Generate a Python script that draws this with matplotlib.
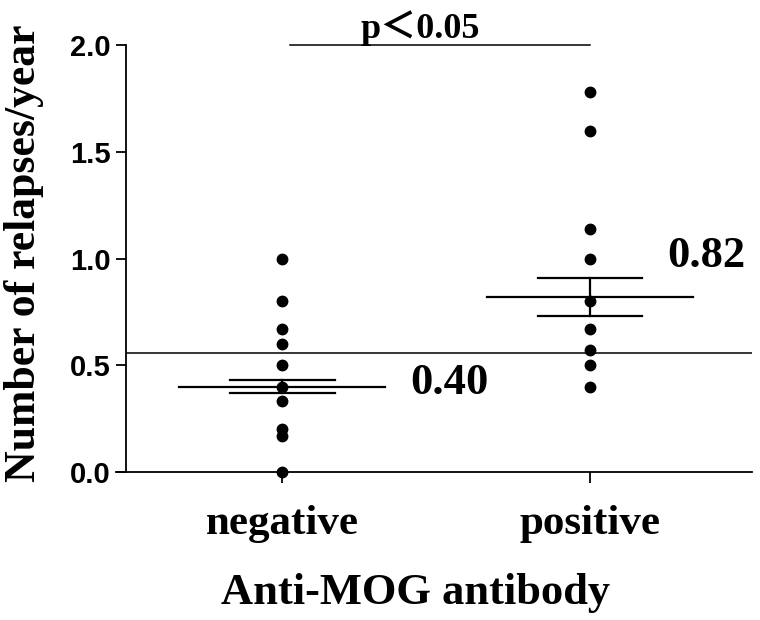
import matplotlib
matplotlib.use('Agg')
import matplotlib.pyplot as plt

groups = ['negative', 'positive']
neg_values = [1.0, 0.8, 0.67, 0.6, 0.5, 0.4, 0.33, 0.2, 0.17, 0.0]
pos_values = [1.78, 1.6, 1.14, 1.0, 0.8, 0.67, 0.57, 0.5, 0.4]
means = [0.40, 0.82]
sems = [0.03, 0.09]
cutoff = 0.557
y_ticks = [0.0, 0.5, 1.0, 1.5, 2.0]

serif = ['Liberation Serif', 'Noto Sans CJK JP']
sans = ['Liberation Sans']

fig = plt.figure(figsize=(7.6, 6.2), dpi=100)
ax = fig.add_axes([0.166, 0.239, 0.823, 0.688])

for i, vals in enumerate([neg_values, pos_values]):
    x = i + 1
    ax.plot([x] * len(vals), vals, 'o', color='black', markersize=7.5, zorder=3, clip_on=False)
    # mean line and SEM
    ax.plot([x - 0.335, x + 0.335], [means[i], means[i]], color='black', lw=1.6)
    for s in (-1, 1):
        ax.plot([x - 0.17, x + 0.17], [means[i] + s * sems[i]] * 2, color='black', lw=1.6)
    ax.plot([x, x], [means[i] - sems[i], means[i] + sems[i]], color='black', lw=1.6)

ax.text(1.415, 0.415, '%.2f' % means[0], fontsize=32, fontweight='bold', family=serif, va='center', ha='left')
ax.text(2.25, 1.01, '%.2f' % means[1], fontsize=32, fontweight='bold', family=serif, va='center', ha='left')

ax.axhline(cutoff, color='black', lw=1.1)

# significance bar
ax.plot([1.025, 2.0], [2.0, 2.0], color='black', lw=1.1, clip_on=False)
ax.text(1.45, 2.035, 'p＜0.05', fontsize=26, fontweight='bold', family=serif, ha='center', va='baseline')

ax.set_xlim(0.493, 2.525)
ax.set_ylim(0, 2.0)
ax.set_yticks(y_ticks)
ax.set_yticklabels(['%.1f' % t for t in y_ticks], fontsize=21, fontweight='bold', family=sans)
ax.set_xticks([1, 2])
ax.set_xticklabels(groups, fontsize=31, fontweight='bold', family=serif)
ax.tick_params(axis='x', length=8, width=1.3, pad=16)
ax.tick_params(axis='y', length=7, width=1.3, pad=4)

ax.spines['top'].set_visible(False)
ax.spines['right'].set_visible(False)
ax.spines['left'].set_linewidth(1.3)
ax.spines['bottom'].set_linewidth(1.3)
ax.spines['bottom'].set_bounds(0.46, 2.525)

ax.set_xlabel('Anti-MOG antibody', fontsize=32, fontweight='bold', family=serif)
ax.xaxis.set_label_coords(0.462, -0.283)
ax.xaxis.label.set_va('center')
ax.set_ylabel('Number of relapses/year', fontsize=31.5, fontweight='bold', family=serif)
ax.yaxis.set_label_coords(-0.163, 0.513)
ax.yaxis.label.set_va('center')

fig.savefig('out.png', dpi=100)
